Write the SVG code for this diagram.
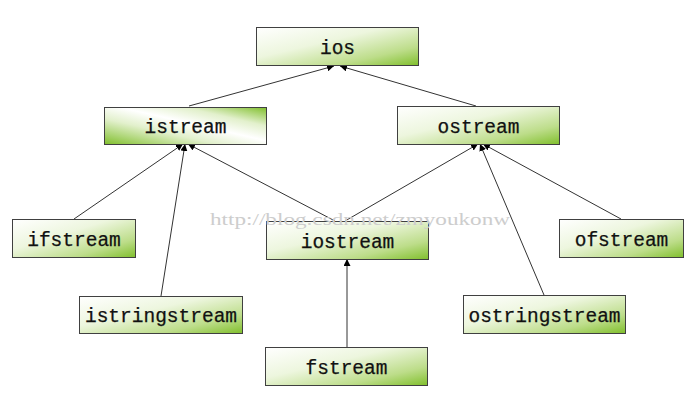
<svg xmlns="http://www.w3.org/2000/svg" width="698" height="417" viewBox="0 0 698 417">
<defs>
<linearGradient id="g" x1="0" y1="0" x2="1" y2="1">
<stop offset="0" stop-color="#ffffff"/>
<stop offset="0.4" stop-color="#edf6de"/>
<stop offset="0.75" stop-color="#bddd8a"/>
<stop offset="1" stop-color="#80bf2c"/>
</linearGradient>
<linearGradient id="g2" x1="0" y1="1" x2="1" y2="0">
<stop offset="0" stop-color="#80bf2c"/>
<stop offset="0.35" stop-color="#e2f0cc"/>
<stop offset="0.55" stop-color="#ffffff"/>
<stop offset="0.75" stop-color="#e2f0cc"/>
<stop offset="1" stop-color="#80bf2c"/>
</linearGradient>
<marker id="a" viewBox="0 0 10 10" refX="10" refY="5" markerWidth="7" markerHeight="7" markerUnits="userSpaceOnUse" orient="auto">
<path d="M0,0 L10,5 L0,10 Z" fill="#000"/>
</marker>
<style>
rect{fill:url(#g);stroke:#404040;stroke-width:1}
text.l{font-family:"Liberation Mono","DejaVu Sans Mono",monospace;font-size:19.5px;fill:#111;text-anchor:middle;stroke:#111;stroke-width:0.25}
.c line{stroke:#333;stroke-width:1;marker-end:url(#a)}
text.w{font-family:"Liberation Serif","DejaVu Serif",serif;font-size:17px;fill:#cdcdcd}
</style>
</defs>
<g class="c" id="connectors">
<line x1="189" y1="106" x2="334" y2="66"/>
<line x1="476" y1="106" x2="340" y2="66"/>
<line x1="74" y1="219" x2="183" y2="144"/>
<line x1="161" y1="296" x2="185" y2="144"/>
<line x1="335" y1="221" x2="188" y2="144"/>
<line x1="345" y1="221" x2="478" y2="144"/>
<line x1="544" y1="295" x2="480" y2="144"/>
<line x1="621" y1="219" x2="483" y2="144"/>
<line x1="347" y1="347" x2="347" y2="259"/>
</g>
<g id="ios"><rect x="256.5" y="27.5" width="162" height="38"/><text class="l" x="337.5" y="54">ios</text></g>
<g id="istream"><rect x="104.5" y="107.5" width="162" height="37" style="fill:url(#g2)"/><text class="l" x="185.5" y="133">istream</text></g>
<g id="ostream"><rect x="397.5" y="106.5" width="162" height="38"/><text class="l" x="478.5" y="133">ostream</text></g>
<g id="ifstream"><rect x="12.5" y="219.5" width="123" height="38"/><text class="l" x="74" y="246">ifstream</text></g>
<g id="ofstream"><rect x="559.5" y="219.5" width="124" height="38"/><text class="l" x="621.5" y="246">ofstream</text></g>
<g id="iostream"><rect x="266.5" y="221.5" width="162" height="38"/><text class="l" x="347.5" y="248">iostream</text></g>
<g id="istringstream"><rect x="79.5" y="296.5" width="163" height="37"/><text class="l" x="161" y="322">istringstream</text></g>
<g id="ostringstream"><rect x="463.5" y="295.5" width="162" height="38"/><text class="l" x="544.5" y="322">ostringstream</text></g>
<g id="fstream"><rect x="265.5" y="347.5" width="162" height="38"/><text class="l" x="346.5" y="374">fstream</text></g>
<text class="w" x="210" y="225" textLength="300" lengthAdjust="spacingAndGlyphs">http://blog.csdn.net/zmyoukonw</text>
</svg>
